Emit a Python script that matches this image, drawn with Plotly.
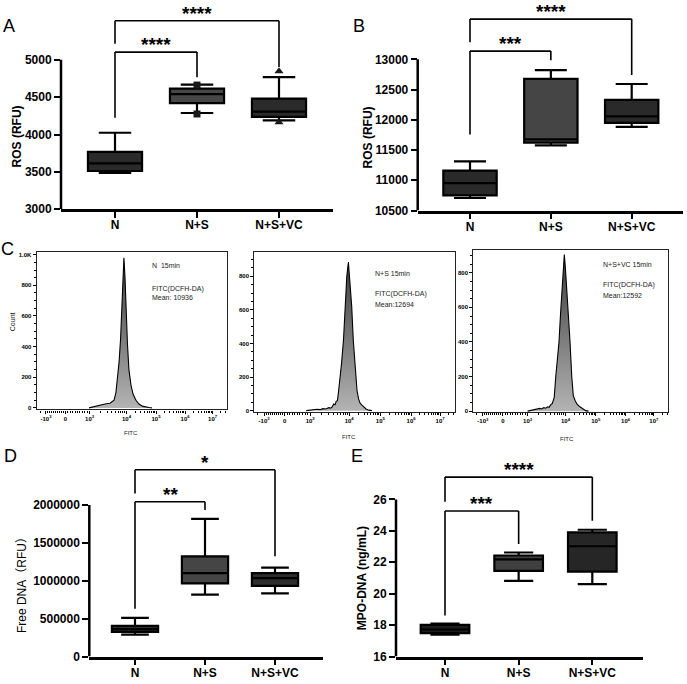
import plotly.graph_objects as go

W, H = 687, 684
FONT = "Liberation Sans, Arial, Noto Sans CJK SC, sans-serif"

cats = ["N", "N+S", "N+S+VC"]

# ---------- Panel A: ROS (RFU) ----------
a_lo = [3485, 4288, 4190]
a_q1 = [3512, 4420, 4235]
a_med = [3614, 4540, 4306]
a_q3 = [3767, 4614, 4481]
a_hi = [4024, 4667, 4768]
a_sq_y = [4662, 4275]      # N+S extreme points (squares)
a_tri_y = [4848, 4164]     # N+S+VC extreme points (triangles)
a_ticks = [3000, 3500, 4000, 4500, 5000]

# ---------- Panel B: ROS (RFU) ----------
b_lo = [10707, 11578, 11884]
b_q1 = [10750, 11622, 11949]
b_med = [10953, 11677, 12057]
b_q3 = [11159, 12678, 12330]
b_hi = [11312, 12820, 12592]
b_ticks = [10500, 11000, 11500, 12000, 12500, 13000]

# ---------- Panel D: Free DNA (RFU) ----------
d_lo = [290000, 817000, 835000]
d_q1 = [325000, 965000, 934000]
d_med = [362000, 1100000, 1035000]
d_q3 = [405000, 1321000, 1100000]
d_hi = [510000, 1817000, 1174000]
d_ticks = [0, 500000, 1000000, 1500000, 2000000]

# ---------- Panel E: MPO-DNA (ng/mL) ----------
e_lo = [17.40, 20.82, 20.61]
e_q1 = [17.49, 21.45, 21.41]
e_med = [17.72, 22.18, 23.02]
e_q3 = [18.01, 22.43, 23.90]
e_hi = [18.09, 22.62, 24.07]
e_ticks = [16, 18, 20, 22, 24, 26]

# significance brackets: (i, j, bar value, left leg end, right leg end, label)
a_sig = [(0, 1, 5103, 4226, 4768, "****"), (0, 2, 5522, 5214, 4905, "****")]
b_sig = [(0, 1, 13136, 11758, 12984, "***"), (0, 2, 13665, 13283, 12739, "****")]
d_sig = [(0, 1, 2043000, 630000, 1934000, "**"), (0, 2, 2465000, 2152000, 1325000, "*")]
e_sig = [(0, 1, 25.26, 18.62, 23.17, "***"), (0, 2, 27.42, 25.85, 24.64, "****")]

# ---------- Panel C: flow cytometry histograms (display channel vs count) ----------
c1_ch = [282, 298, 330, 368, 395, 417, 427, 435, 444, 452, 460, 465, 470, 476, 481,
         489, 497, 508, 519, 535, 551, 573, 605, 621]
c1_cnt = [0, 5, 15, 25, 30, 50, 100, 180, 300, 450, 650, 820, 980, 850, 650,
          420, 250, 150, 90, 50, 25, 10, 2, 0]
c2_ch = [265, 290, 305, 320, 335, 350, 365, 380, 390, 398, 405, 412, 418, 424, 428, 436,
         445, 455, 464, 472, 480, 488, 497, 505, 512, 519, 524, 532, 540, 548, 556, 570, 585, 600]
c2_cnt = [0, 4, 3, 8, 6, 12, 10, 18, 15, 24, 40, 35, 55, 60, 95, 170,
          280, 420, 620, 800, 885, 780, 620, 420, 300, 210, 120, 70, 45, 35, 25, 10, 3, 0]
c3_ch = [285, 300, 310, 325, 340, 350, 358, 370, 380, 390, 398, 405, 415, 425, 433, 442,
         450, 458, 466, 472, 478, 484, 492, 500, 508, 517, 525, 535, 545, 560, 575, 590, 605]
c3_cnt = [0, 3, 5, 9, 12, 16, 13, 20, 17, 25, 22, 35, 45, 80, 200, 300,
          400, 560, 720, 850, 905, 820, 700, 560, 400, 200, 90, 60, 40, 25, 12, 3, 0]
c_labels = [["N  15min", "FITC(DCFH-DA)", "Mean: 10936"],
            ["N+S 15min", "FITC(DCFH-DA)", "Mean:12694"],
            ["N+S+VC 15min", "FITC(DCFH-DA)", "Mean:12592"]]
flow_tick_ch = [50, 155, 285, 484, 643, 800, 948]
flow_tick_txt = ["-10<sup>3</sup>", "0", "10<sup>3</sup>", "10<sup>4</sup>",
                 "10<sup>5</sup>", "10<sup>6</sup>", "10<sup>7</sup>"]

fig = go.Figure()
shapes, annos = [], []
layout = {}


def dom(x0, x1, y0, y1):
    return [x0 / W, x1 / W], [1 - y1 / H, 1 - y0 / H]


def pxa(x, y, text, size, bold=False, angle=0, xanchor="center", yanchor="middle", color="black"):
    annos.append(dict(xref="paper", yref="paper", x=x / W, y=1 - y / H, text=text,
                      showarrow=False, textangle=angle, xanchor=xanchor, yanchor=yanchor,
                      font=dict(family=FONT, size=size, color=color,
                                weight="bold" if bold else "normal")))


def box_panel(n, lo, q1, med, q3, hi, fills, xpx, ybot_px, ybot_val, px_per_unit, ytop_px,
              ticks, sig):
    xa, ya = ("x%d" % n, "y%d" % n)
    xk, yk = ("xaxis%d" % n, "yaxis%d" % n)
    ytop_val = ybot_val + (ybot_px - ytop_px) / px_per_unit
    xd, yd = dom(xpx[0], xpx[1], ytop_px, ybot_px)
    c0, c2 = xpx[2], xpx[3]
    step = (c2 - c0) / 2
    xr = [(xpx[0] - c0) / step, (xpx[1] - c0) / step]
    for i in range(len(cats)):
        fig.add_trace(go.Box(x=[i], lowerfence=[lo[i]], q1=[q1[i]], median=[med[i]],
                             q3=[q3[i]], upperfence=[hi[i]], width=0.66, whiskerwidth=0.6,
                             fillcolor=fills[i], line=dict(color="black", width=2.2),
                             boxpoints=False, xaxis=xa, yaxis=ya, showlegend=False,
                             hoverinfo="skip"))
    layout[xk] = dict(domain=xd, range=xr, anchor=ya, tickvals=list(range(len(cats))),
                      ticktext=cats, showline=True, linewidth=2.5, linecolor="black",
                      ticks="outside", ticklen=6, tickwidth=2, tickcolor="black",
                      showgrid=False, zeroline=False, ticklabelstandoff=-3,
                      tickfont=dict(family=FONT, size=12, color="black", weight="bold"))
    layout[yk] = dict(domain=yd, range=[ybot_val, ytop_val], anchor=xa, tickvals=ticks,
                      ticktext=[str(v) for v in ticks],
                      showline=False, ticks="outside", ticklen=6, tickwidth=2,
                      tickcolor="black", showgrid=False, zeroline=False,
                      tickfont=dict(family=FONT, size=12, color="black", weight="bold"))
    shapes.append(dict(type="line", xref=xa + " domain", yref=ya, x0=0, x1=0,
                       y0=ticks[0], y1=ticks[-1], line=dict(color="black", width=2.5)))
    for (i, j, yb, yl, yr, lab) in sig:
        for (x0, y0, x1, y1) in [(i, yl, i, yb), (i, yb, j, yb), (j, yb, j, yr)]:
            shapes.append(dict(type="line", xref=xa, yref=ya, x0=x0, y0=y0, x1=x1, y1=y1,
                               line=dict(color="black", width=1.6)))
        annos.append(dict(xref=xa, yref=ya, x=(i + j) / 2, y=yb, text=lab, showarrow=False,
                          yanchor="bottom", yshift=-5,
                          font=dict(family=FONT, size=19, color="black", weight="bold")))


box_panel(1, a_lo, a_q1, a_med, a_q3, a_hi, ["#2a2a2a", "#474747", "#2b2b2b"],
          [61, 333, 115, 279], 210.7, a_ticks[0], 37.8 / 500, 14, a_ticks, a_sig)
fig.add_trace(go.Scatter(x=[1] * len(a_sq_y), y=a_sq_y, mode="markers", xaxis="x1", yaxis="y1",
                         marker=dict(symbol="square", size=7, color="#1a1a1a"),
                         showlegend=False, hoverinfo="skip", cliponaxis=False))
fig.add_trace(go.Scatter(x=[2] * len(a_tri_y), y=a_tri_y, mode="markers", xaxis="x1", yaxis="y1",
                         marker=dict(symbol="triangle-up", size=8, color="#1a1a1a"),
                         showlegend=False, hoverinfo="skip", cliponaxis=False))
box_panel(2, b_lo, b_q1, b_med, b_q3, b_hi, ["#2a2a2a", "#454545", "#2a2a2a"],
          [417.7, 683, 470, 631.7], 212, b_ticks[0], 30.6 / 500, 12, b_ticks, b_sig)
box_panel(6, d_lo, d_q1, d_med, d_q3, d_hi, ["#303030", "#454545", "#2e2e2e"],
          [89.3, 322.7, 135, 275], 663.3, d_ticks[0], 38.33 / 500000, 466, d_ticks, d_sig)
box_panel(7, e_lo, e_q1, e_med, e_q3, e_hi, ["#1c1c1c", "#404040", "#262626"],
          [396, 642.7, 445, 592.3], 663.3, e_ticks[0], 15.9, 474, e_ticks, e_sig)


# flow panels
def minor_vals():
    import math
    vals = []
    p = flow_tick_ch
    for k in range(1, 10):
        vals.append(p[0] + (p[1] - p[0]) * k / 10)
        vals.append(p[1] + (p[2] - p[1]) * k / 10)
    for d in range(2, 6):
        for k in range(2, 10):
            vals.append(p[d] + math.log10(k) * (p[d + 1] - p[d]))
    for k in range(2, 4):
        vals.append(p[6] + math.log10(k) * (p[6] - p[5]))
    for k in range(2, 4):
        vals.append(p[0] - math.log10(k) * (p[1] - p[0]))
    return [v for v in vals if 0 < v < 1024]


mv = minor_vals()


def flow_panel(n, ch, cnt, box, yzero_px, px_per_count, ymax_tick, labels, lab_pos, fitc_pos):
    xa, ya = ("x%d" % n, "y%d" % n)
    x0, x1, y0, y1 = box
    xd, yd = dom(x0, x1, y0, y1)
    ylo = -(y1 - yzero_px) / px_per_count
    yhi = (yzero_px - y0) / px_per_count
    fig.add_trace(go.Scatter(x=ch, y=cnt, mode="lines", fill="tozeroy",
                             line=dict(color="black", width=1.1),
                             fillgradient=dict(type="vertical",
                                               colorscale=[[0, "#b5b5b5"], [0.35, "#8a8a8a"],
                                                           [1, "#3c3c3c"]],
                                               start=0, stop=max(cnt)),
                             xaxis=xa, yaxis=ya, showlegend=False, hoverinfo="skip"))
    yt = list(range(0, ymax_tick + 1, 200))
    ytt = [str(v) if v < 1000 else "1.0K" for v in yt]
    layout["xaxis%d" % n] = dict(domain=xd, range=[0, 1024], anchor=ya, tickvals=flow_tick_ch,
                                 ticktext=flow_tick_txt, showline=True, mirror=True,
                                 linecolor="#222", linewidth=1.2, ticks="outside", ticklen=3,
                                 tickwidth=1, tickcolor="black", showgrid=False, zeroline=False,
                                 minor=dict(tickvals=mv, ticks="outside", ticklen=2,
                                            tickcolor="black", tickwidth=1),
                                 tickfont=dict(family=FONT, size=6, color="black", weight="bold"))
    layout["yaxis%d" % n] = dict(domain=yd, range=[ylo, yhi], anchor=xa, tickvals=yt,
                                 ticktext=ytt, showline=True, mirror=True, linecolor="#222",
                                 linewidth=1.2, ticks="outside", ticklen=3, tickwidth=1,
                                 tickcolor="black", showgrid=False, zeroline=False,
                                 minor=dict(dtick=50, tick0=0, ticks="outside", ticklen=2,
                                            tickcolor="black", tickwidth=1),
                                 tickfont=dict(family=FONT, size=6, color="black", weight="bold"))
    for (t, (px, py)) in zip(labels, lab_pos):
        pxa(px, py, t, 7, xanchor="left", color="#222")
    pxa(fitc_pos[0], fitc_pos[1], "FITC", 6, color="#222")


flow_panel(3, c1_ch, c1_cnt, (36.7, 226.7, 254.3, 413.3), 411.7, 31 / 200, 1000, c_labels[0],
           [(150, 268), (150, 291), (150, 300.5)], (131, 437))
flow_panel(4, c2_ch, c2_cnt, (254.3, 455, 254.3, 415.5), 414.5, 34 / 200, 800, c_labels[1],
           [(373, 275.7), (373, 296), (373, 307.3)], (349, 441))
flow_panel(5, c3_ch, c3_cnt, (473.3, 668.3, 251.7, 416), 415, 35 / 200, 800, c_labels[2],
           [(601, 267), (601, 287.3), (601, 297.7)], (567, 443))

# axis titles & panel letters
pxa(17, 137, "ROS (RFU)", 12, bold=True, angle=-90)
pxa(368, 138, "ROS (RFU)", 12, bold=True, angle=-90)
pxa(22, 588, "Free DNA（RFU）", 12, angle=-90)
pxa(362, 584, "MPO-DNA (ng/mL)", 12, bold=True, angle=-90)
pxa(12, 325, "Count", 7, angle=-90, color="#222")
for (L, x, y) in [("A", 9, 25), ("B", 359, 25), ("C", 7, 251), ("D", 10, 460), ("E", 357, 460)]:
    pxa(x, y, L, 18)

layout["xaxis"] = layout.pop("xaxis1")
layout["yaxis"] = layout.pop("yaxis1")
layout["xaxis"]["anchor"] = "y"
layout["yaxis"]["anchor"] = "x"
for s in shapes + annos:
    for k in ("xref", "yref"):
        if s[k].startswith("x1") or s[k].startswith("y1"):
            s[k] = s[k][0] + s[k][2:]
for tr in fig.data:
    if tr.xaxis == "x1":
        tr.xaxis = "x"
    if tr.yaxis == "y1":
        tr.yaxis = "y"

fig.update_layout(width=W, height=H, margin=dict(l=0, r=0, t=0, b=0), paper_bgcolor="white",
                  plot_bgcolor="white", showlegend=False, shapes=shapes, annotations=annos,
                  font=dict(family=FONT), **layout)
fig.write_html("out.html")
